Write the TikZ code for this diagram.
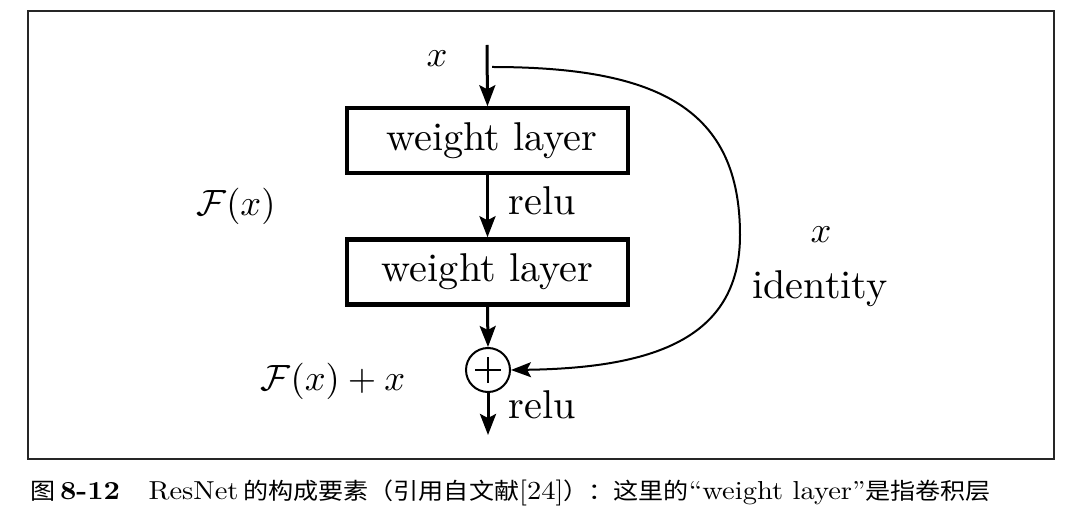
\documentclass[tikz,border=0pt]{standalone}
\usepackage{fontspec}
\newfontfamily\cjk{Noto Sans CJK SC}
\usetikzlibrary{arrows.meta}
\newcommand{\dtxt}[1]{\scalebox{4.02}{#1}}
\newcommand{\mtxt}[1]{\scalebox{3.65}{#1}}
\tikzset{
  flow/.style={line width=3pt,-{Stealth[length=21pt,width=16pt,inset=4pt]}},
  skip/.style={line width=2pt,-{Stealth[length=20pt,width=15pt,inset=4pt]}},
  layerbox/.style={draw,minimum width=281pt,minimum height=65pt,inner sep=0pt},
  lbl/.style={inner sep=0pt,anchor=base},
}
\begin{document}
\begin{tikzpicture}[x=1pt,y=-1pt]
\useasboundingbox (0,0) rectangle (1080,518);
\draw[line width=2pt,black!85] (28,11) rectangle (1054,459);
% nodes
\coordinate (in) at (487,45);
\coordinate (branch) at (492,67);
\node[layerbox,line width=3.5pt] (w1) at (487.5,140.5) {\hspace*{9pt}\dtxt{weight layer}};
\node[layerbox,line width=4.5pt] (w2) at (487.5,272) {\dtxt{weight layer}};
\node[draw,circle,line width=2pt,minimum size=44pt,inner sep=0pt] (add) at (488,370) {};
\draw[line width=1.5pt] ([xshift=-13pt]add.center) -- ([xshift=13pt]add.center)
  ([yshift=-13pt]add.center) -- ([yshift=13pt]add.center);
\coordinate (out) at (488,435);
% labels
\node[lbl] (xin) at (437,67) {\mtxt{$x$}};
\node[lbl] (relu1) at (542,215) {\dtxt{relu}};
\node[lbl] (relu2) at (542,419) {\dtxt{relu}};
\node[lbl] (fx) at (236,216) {\mtxt{$\mathcal{F}(x)$}};
\node[lbl] (fxx) at (333,391) {\mtxt{$\mathcal{F}(x)+x$}};
\node[lbl] (xid) at (821,243) {\mtxt{$x$}};
\node[lbl] (ident) at (820,299) {\dtxt{identity}};
% connectors
\draw[flow] (in) -- (w1.north);
\draw[flow] (w1.south) -- (w2.north);
\draw[flow] (w2.south) -- (add.north);
\draw[flow] (add.south) -- (out);
\draw[skip] (branch) .. controls (660,67) and (740,110) .. (740,235)
  .. controls (740,335) and (660,368) .. (add.east);
% caption
\node[inner sep=0pt,anchor=base west] (cap) at (30,500) {\scalebox{2.85}[2.6]{\fontsize{10}{12}\selectfont
  {\cjk\fontsize{8.8}{10}\selectfont 图}\,\textbf{8-12}\quad ResNet\,{\cjk\fontsize{8.8}{10}\selectfont 的构成要素（引用自文献}[24]{\cjk\fontsize{8.8}{10}\selectfont ）：这里的}``weight layer''{\cjk\fontsize{8.8}{10}\selectfont 是指卷积层}}};
\end{tikzpicture}
\end{document}
